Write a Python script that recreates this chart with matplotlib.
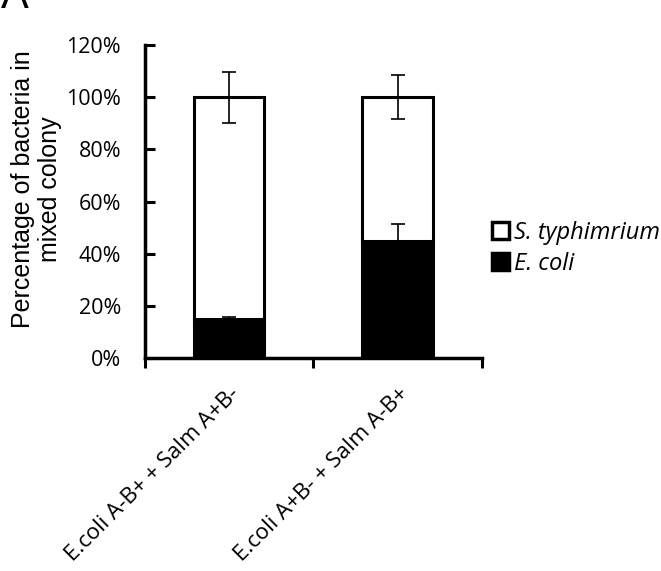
import matplotlib
matplotlib.use("Agg")
import matplotlib.pyplot as plt
from matplotlib.patches import Patch
import numpy as np

categories = ["E.coli A-B+ + Salm A+B-", "E.coli A+B- + Salm A-B+"]
ecoli = [15.0, 44.8]
ecoli_err = [0.6, 6.5]
salm = [85.0, 55.2]
salm_err = [9.8, 8.5]
yticks = [0, 20, 40, 60, 80, 100, 120]

fig = plt.figure(figsize=(6.61, 5.71), dpi=100)
ax = fig.add_axes([0.219, 0.373, 0.510, 0.548])

x = np.arange(len(categories))
w = 0.42
ax.bar(x, ecoli, w, color="black", edgecolor="black", linewidth=2.2)
ax.bar(x, salm, w, bottom=ecoli, color="white", edgecolor="black", linewidth=2.2)

tot = np.array(ecoli) + np.array(salm)
ax.errorbar(x, tot, yerr=salm_err, fmt="none", ecolor="black", elinewidth=1.2, capsize=5, capthick=1.2)
ax.errorbar(x, ecoli, yerr=[[0, 0], ecoli_err], fmt="none", ecolor="black", elinewidth=1.2, capsize=5, capthick=1.2)

ax.set_xlim(-0.5, 1.5)
ax.set_ylim(0, 120)
ax.set_yticks(yticks)
ax.set_yticklabels([f"{v}%" for v in yticks], fontsize=15.5, family="Open Sans")
ax.tick_params(axis="y", direction="in", length=7, width=2.2, pad=17)
ax.set_xticks([-0.5, 0.5, 1.5])
ax.set_xticklabels([])
ax.set_xticks(x, minor=True)
ax.set_xticklabels(categories, minor=True, rotation=45, ha="right", rotation_mode="anchor",
                   fontsize=16, family="Open Sans")
ax.tick_params(axis="x", which="major", direction="out", length=7, width=2.2)
ax.tick_params(axis="x", which="minor", length=0, pad=18)

for s in ["top", "right"]:
    ax.spines[s].set_visible(False)
for s in ["left", "bottom"]:
    ax.spines[s].set_linewidth(2.5)

ax.set_ylabel("Percentage of bacteria in\nmixed colony", fontsize=18, family="Liberation Sans",
              linespacing=1.15)
ax.yaxis.set_label_coords(-0.245, 0.54)

handles = [Patch(facecolor="white", edgecolor="black", linewidth=2.5, label="S. typhimrium"),
           Patch(facecolor="black", edgecolor="black", linewidth=2.5, label="E. coli")]
fig.legend(handles=handles, loc="center left", bbox_to_anchor=(0.745, 0.565), frameon=False,
           prop={"family": "Open Sans", "style": "italic", "size": 17},
           handlelength=0.7, handleheight=0.7, handletextpad=0.2, labelspacing=0.3,
           borderaxespad=0, borderpad=0)

fig.text(15 / 661, 1 - 8 / 571, "A", fontsize=30, family="Liberation Sans", va="baseline", ha="center")

fig.savefig("out.png", dpi=100)
